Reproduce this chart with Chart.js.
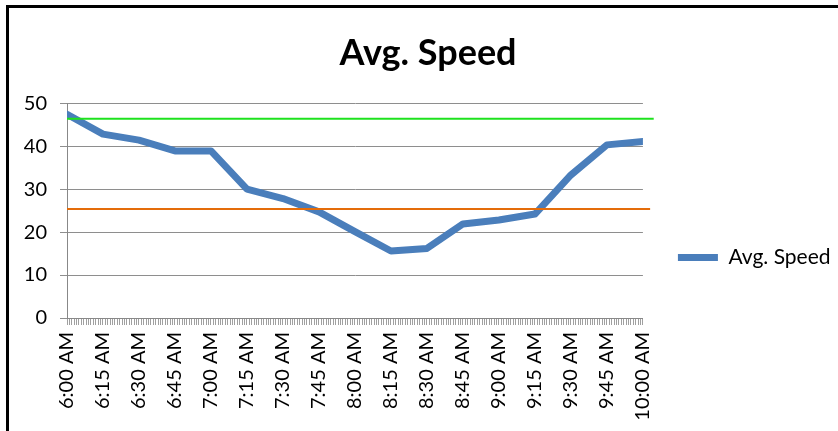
<!DOCTYPE html>
<html>
<head>
<meta charset="utf-8">
<script src="https://cdn.jsdelivr.net/npm/chart.js@4.4.1/dist/chart.umd.min.js"></script>
<style>
  html, body { margin: 0; padding: 0; background: #fff; overflow: hidden; width: 838px; height: 431px; }
  #marco { position: absolute; left: 6px; top: 5px; width: 900px; height: 600px;
           border-top: 3px solid #000; border-left: 3px solid #000; pointer-events: none; z-index: 2 }
  #grafica { position: absolute; left: 0; top: 0; }
</style>
</head>
<body>
<!-- el lienzo es mas alto que la ventana para que la leyenda quede centrada como en Excel -->
<canvas id="grafica" width="856" height="515"></canvas>
<div id="marco"></div>
<script>
// minutos contados desde las 6:00 AM
var minutos = [0, 15, 30, 45, 60, 75, 90, 105, 120, 135, 150, 165, 180, 195, 210, 225, 240]
var velocidades = [47.4, 42.8, 41.4, 38.9, 38.9, 30.0, 27.8, 24.7, 20.1, 15.6, 16.2, 21.9, 22.8, 24.2, 33.3, 40.3, 41.1]
var etiquetas_horas = ['6:00 AM', '6:15 AM', '6:30 AM', '6:45 AM', '7:00 AM', '7:15 AM', '7:30 AM', '7:45 AM',
    '8:00 AM', '8:15 AM', '8:30 AM', '8:45 AM', '9:00 AM', '9:15 AM', '9:30 AM', '9:45 AM', '10:00 AM']
var limite_verde = [46.4, 46.4]
var limite_naranja = [25.4, 25.4]
var extremos_verde = [0, 244.5]
var extremos_naranja = [0, 243]

var grafica

function a_puntos(xs, ys) {
    return xs.map(function (x, i) { return { x: x, y: ys[i] } })
}

function pintar_grafica() {
    Chart.defaults.font.family = 'Lato'
    Chart.defaults.color = '#000'
    var lienzo = document.getElementById('grafica')
    grafica = new Chart(lienzo, {
        type: 'line',
        data: {
            datasets: [{
                label: 'Limite verde',
                data: a_puntos(extremos_verde, limite_verde),
                borderColor: '#1ee21e',
                borderWidth: 2,
                pointRadius: 0,
                clip: false
            }, {
                label: 'Limite naranja',
                data: a_puntos(extremos_naranja, limite_naranja),
                borderColor: '#e46c0a',
                borderWidth: 2,
                pointRadius: 0,
                clip: false
            }, {
                label: 'Avg. Speed',
                data: a_puntos(minutos, velocidades),
                borderColor: '#4a7ebb',
                backgroundColor: '#4a7ebb',
                borderWidth: 7,
                borderJoinStyle: 'round',
                borderCapStyle: 'round',
                pointRadius: 0,
                tension: 0
            }]
        },
        options: {
            responsive: false,
            animation: false,
            events: [],
            layout: { padding: { left: 15.5, right: 15.5, top: 0, bottom: 0 } },
            scales: {
                x: {
                    type: 'linear',
                    min: 0, max: 240,
                    grid: { drawOnChartArea: false, tickLength: 7, color: '#a0a0a0' },
                    border: { color: '#888' },
                    ticks: {
                        stepSize: 1, autoSkip: false,
                        minRotation: 90, maxRotation: 90,
                        padding: 7,
                        font: { size: 20 },
                        callback: function (v) { return v % 15 === 0 ? etiquetas_horas[v / 15] : '' }
                    },
                    afterFit: function (s) {
                        s.height = 197
                        // que no recorte "10:00 AM" por abajo
                        s._computeLabelArea = function () { return null }
                    }
                },
                y: {
                    min: 0, max: 50,
                    grid: { color: '#8e8e8e', tickLength: 7 },
                    border: { color: '#888' },
                    ticks: { stepSize: 10, padding: 13, font: { size: 20 } },
                    afterFit: function (s) { s.width = 51.5 }
                }
            },
            plugins: {
                title: {
                    display: true,
                    text: 'Avg. Speed',
                    font: { size: 36, weight: 'bold' },
                    color: '#000',
                    padding: { top: 32, bottom: 28 }
                },
                legend: {
                    position: 'right',
                    labels: {
                        filter: function (item) { return item.text === 'Avg. Speed' },
                        usePointStyle: true,
                        pointStyle: 'line',
                        pointStyleWidth: 40,
                        padding: 35,
                        font: { size: 21 },
                        color: '#000'
                    }
                },
                tooltip: { enabled: false }
            }
        }
    })
}

document.fonts.load('bold 36px Lato').then(function () {
    return document.fonts.load('20px Lato')
}).then(pintar_grafica, pintar_grafica)
</script>
</body>
</html>
